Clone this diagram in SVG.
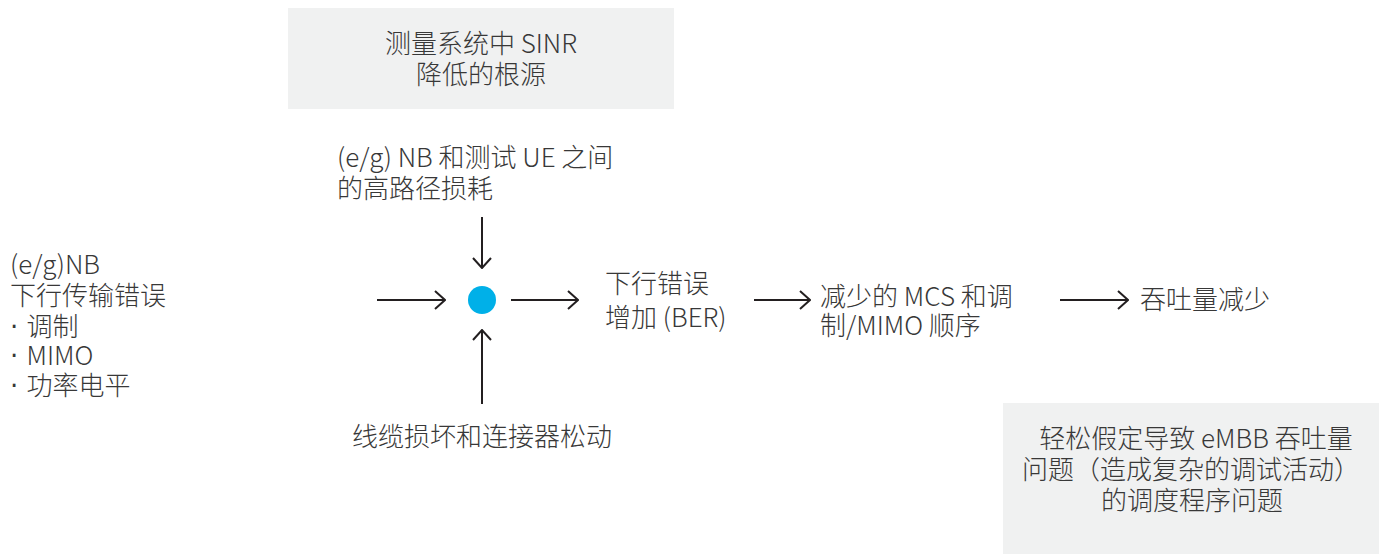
<svg xmlns="http://www.w3.org/2000/svg" width="1379" height="554" viewBox="0 0 1379 554">
<style>
text{font-family:"Noto Sans CJK SC","Noto Sans",sans-serif;font-size:26px;fill:#383838;font-weight:300}
.c{text-anchor:middle}
.d{font-family:"DejaVu Sans",sans-serif;font-weight:normal}
.box{fill:#f0f1f1}
.ln{stroke:#231f20;stroke-width:2;fill:none}
</style>
<defs>
<marker id="ah" viewBox="0 0 12 20" refX="11" refY="10" markerWidth="12" markerHeight="20" markerUnits="userSpaceOnUse" orient="auto">
<path d="M1,1 L11,10 L1,19" fill="none" stroke="#231f20" stroke-width="2"/>
</marker>
</defs>
<g id="root-cause">
<rect class="box" x="288" y="8" width="386" height="101"/>
<text class="c" x="481" y="53">测量系统中 SINR</text>
<text class="c" x="481" y="84">降低的根源</text>
</g>
<g id="pathloss">
<text x="337" y="167">(e/g) NB 和测试 UE 之间</text>
<text x="337" y="198">的高路径损耗</text>
</g>
<g id="nb-errors">
<text x="10" y="274">(e/g)NB</text>
<text x="10" y="305">下行传输错误</text>
<text x="10" y="336"><tspan class="d">· </tspan>调制</text>
<text x="10" y="365"><tspan class="d">· </tspan>MIMO</text>
<text x="10" y="395"><tspan class="d">· </tspan>功率电平</text>
</g>
<g id="cable">
<text x="352" y="446">线缆损坏和连接器松动</text>
</g>
<g id="hub">
<circle cx="482" cy="300" r="14" fill="#00b0e8"/>
</g>
<g id="ber">
<text x="605" y="293">下行错误</text>
<text x="605" y="327">增加 (BER)</text>
</g>
<g id="mcs">
<text x="820" y="306">减少的 MCS 和调</text>
<text x="820" y="335">制/MIMO 顺序</text>
</g>
<g id="throughput">
<text x="1140" y="309">吞吐量减少</text>
</g>
<g id="embb">
<rect class="box" x="1003" y="403" width="376" height="151"/>
<text class="c" x="1196" y="448">轻松假定导致 eMBB 吞吐量</text>
<text class="c" x="1191" y="479">问题（造成复杂的调试活动）</text>
<text class="c" x="1192" y="510">的调度程序问题</text>
</g>
<g id="connectors">
<line class="ln" x1="377" y1="300" x2="445" y2="300" marker-end="url(#ah)"/>
<line class="ln" x1="482" y1="217" x2="482" y2="268" marker-end="url(#ah)"/>
<line class="ln" x1="482" y1="404" x2="482" y2="330" marker-end="url(#ah)"/>
<line class="ln" x1="511" y1="300" x2="578" y2="300" marker-end="url(#ah)"/>
<line class="ln" x1="754" y1="300" x2="810" y2="300" marker-end="url(#ah)"/>
<line class="ln" x1="1060" y1="300" x2="1128" y2="300" marker-end="url(#ah)"/>
</g>
</svg>
